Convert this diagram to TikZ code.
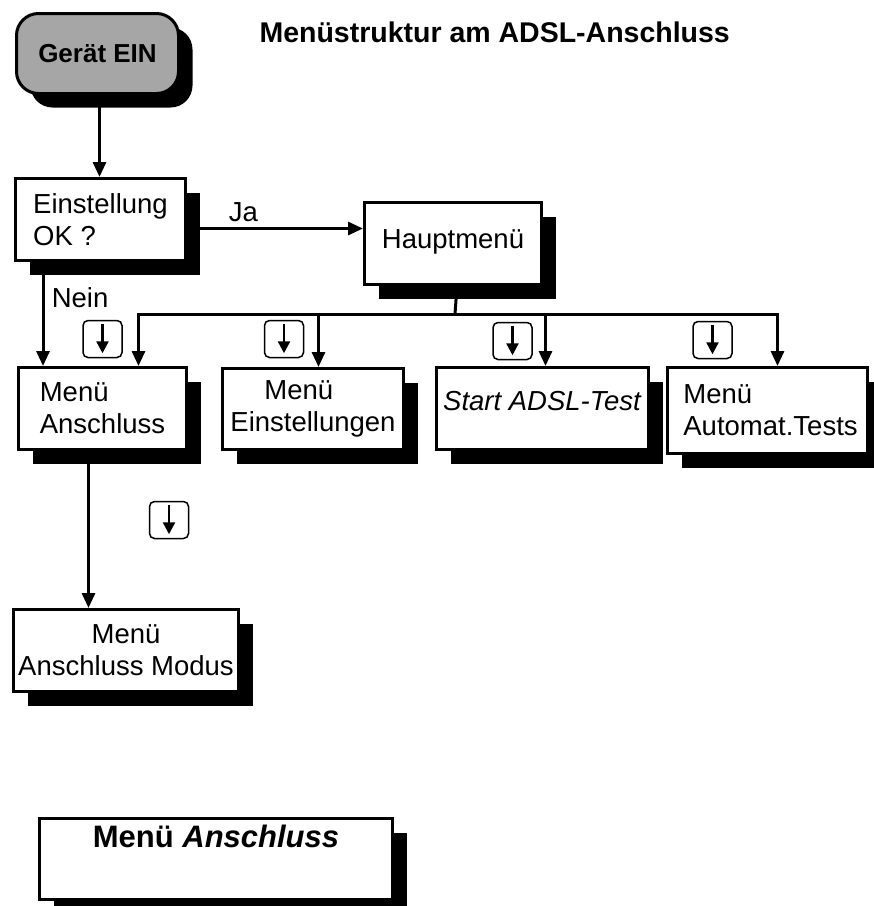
\documentclass[tikz,border=0pt]{standalone}
\usepackage{fontspec}
\setmainfont{Liberation Sans}
\usetikzlibrary{arrows.meta, shadows}
\definecolor{btngray}{RGB}{166,166,166}
\newcommand{\boxfont}{\fontsize{27.5}{32}\selectfont}
\newcommand{\headfont}{\fontsize{28.5}{34}\selectfont\bfseries}

\tikzset{
  menubox/.style={draw, line width=3pt, fill=white, anchor=north west, inner sep=3pt,
    drop shadow={shadow xshift=14pt, shadow yshift=-14pt, opacity=1, fill=black}},
  startbox/.style={menubox, fill=btngray, rounded corners=22pt, font=\fontsize{26}{31}\selectfont\bfseries},
  keybox/.style={draw, line width=1.5pt, fill=white, rounded corners=5pt,
    minimum width=39pt, minimum height=37pt, inner sep=0pt},
  keyarrow/.style={line width=2.4pt, -{Triangle[length=12pt, width=12pt]}},
  wire/.style={line width=3pt},
  conn/.style={wire, -{Triangle[length=15pt, width=13pt]}},
}

\begin{document}
\begin{tikzpicture}[x=1pt, y=-1pt, font=\boxfont]
  \useasboundingbox (0,0) rectangle (874,906);

  \node[font=\headfont, anchor=base west] (title) at (256,42) {Menüstruktur am ADSL-Anschluss};

  % Einschalten und Abfrage
  \node[startbox, minimum width=162pt, minimum height=80pt] (geraet) at (15,12) {Gerät EIN};
  \node[menubox, minimum width=170pt, minimum height=82pt, align=left] (einst) at (14,177) {Einstellung\\OK ?};
  \node[menubox, minimum width=177pt, minimum height=82pt, text height=20pt, text depth=11pt] (haupt) at (363,201) {Hauptmenü};

  % Untermenues
  \node[menubox, minimum width=168pt, minimum height=82pt, align=left] (anschl) at (17,366) {Menü\\Anschluss};
  \node[menubox, minimum width=181pt, minimum height=81pt, align=left] (einstm) at (221,367) {\hspace*{34pt}Menü\\Einstellungen};
  \node[menubox, minimum width=212pt, minimum height=82pt, text height=20pt, text depth=17pt] (start) at (435,366) {\textit{Start ADSL-Test}};
  \node[menubox, minimum width=200pt, minimum height=86pt, align=left] (auto) at (666,366) {\hspace*{6pt}Menü\\\hspace*{6pt}Automat.Tests};
  \node[menubox, minimum width=225pt, minimum height=82pt, align=center] (modus) at (12,608) {Menü\\Anschluss Modus};

  % Ueberschrift unten
  \node[menubox, minimum width=353pt, minimum height=81pt, font=\fontsize{31}{36}\selectfont\bfseries, text height=22pt, text depth=45pt] (legend) at (38,817) {Menü \textit{Anschluss}};

  % Verbindungen
  \coordinate (gTop) at ([xshift=2pt]geraet.south);
  \draw[conn] (gTop) -- (gTop |- einst.north);

  \coordinate (jaStart) at ([yshift=-9pt]einst.east);
  \draw[conn] (jaStart) -- (jaStart -| haupt.west) node[pos=.32, above=2pt] (ja) {Ja};

  \coordinate (neinTop) at ([xshift=29pt]einst.south west);
  \draw[conn] (neinTop) -- (neinTop |- anschl.north) node[pos=.34, right=4pt] (nein) {Nein};

  \coordinate (bus) at (455,314);
  \draw[wire] ([xshift=4pt]haupt.south) -- (bus);
  \draw[conn] (bus) -| ([xshift=36pt]anschl.north);
  \draw[conn] (bus) -| ([xshift=5.5pt]einstm.north);
  \draw[conn] (bus) -| ([xshift=3pt]start.north);
  \draw[conn] (bus) -| ([xshift=10pt]auto.north);

  \coordinate (modTop) at ([xshift=-14pt]anschl.south);
  \draw[conn] (modTop) -- (modTop |- modus.north);

  % Tasten
  \foreach \k/\x/\y in {k1/102.5/339, k2/284/339, k3/512.5/341, k4/712.5/340, k5/169/520} {
    \node[keybox] (\k) at (\x,\y) {};
    \draw[keyarrow] ([yshift=-4pt]\k.north) -- ([yshift=5pt]\k.south);
  }
\end{tikzpicture}
\end{document}
